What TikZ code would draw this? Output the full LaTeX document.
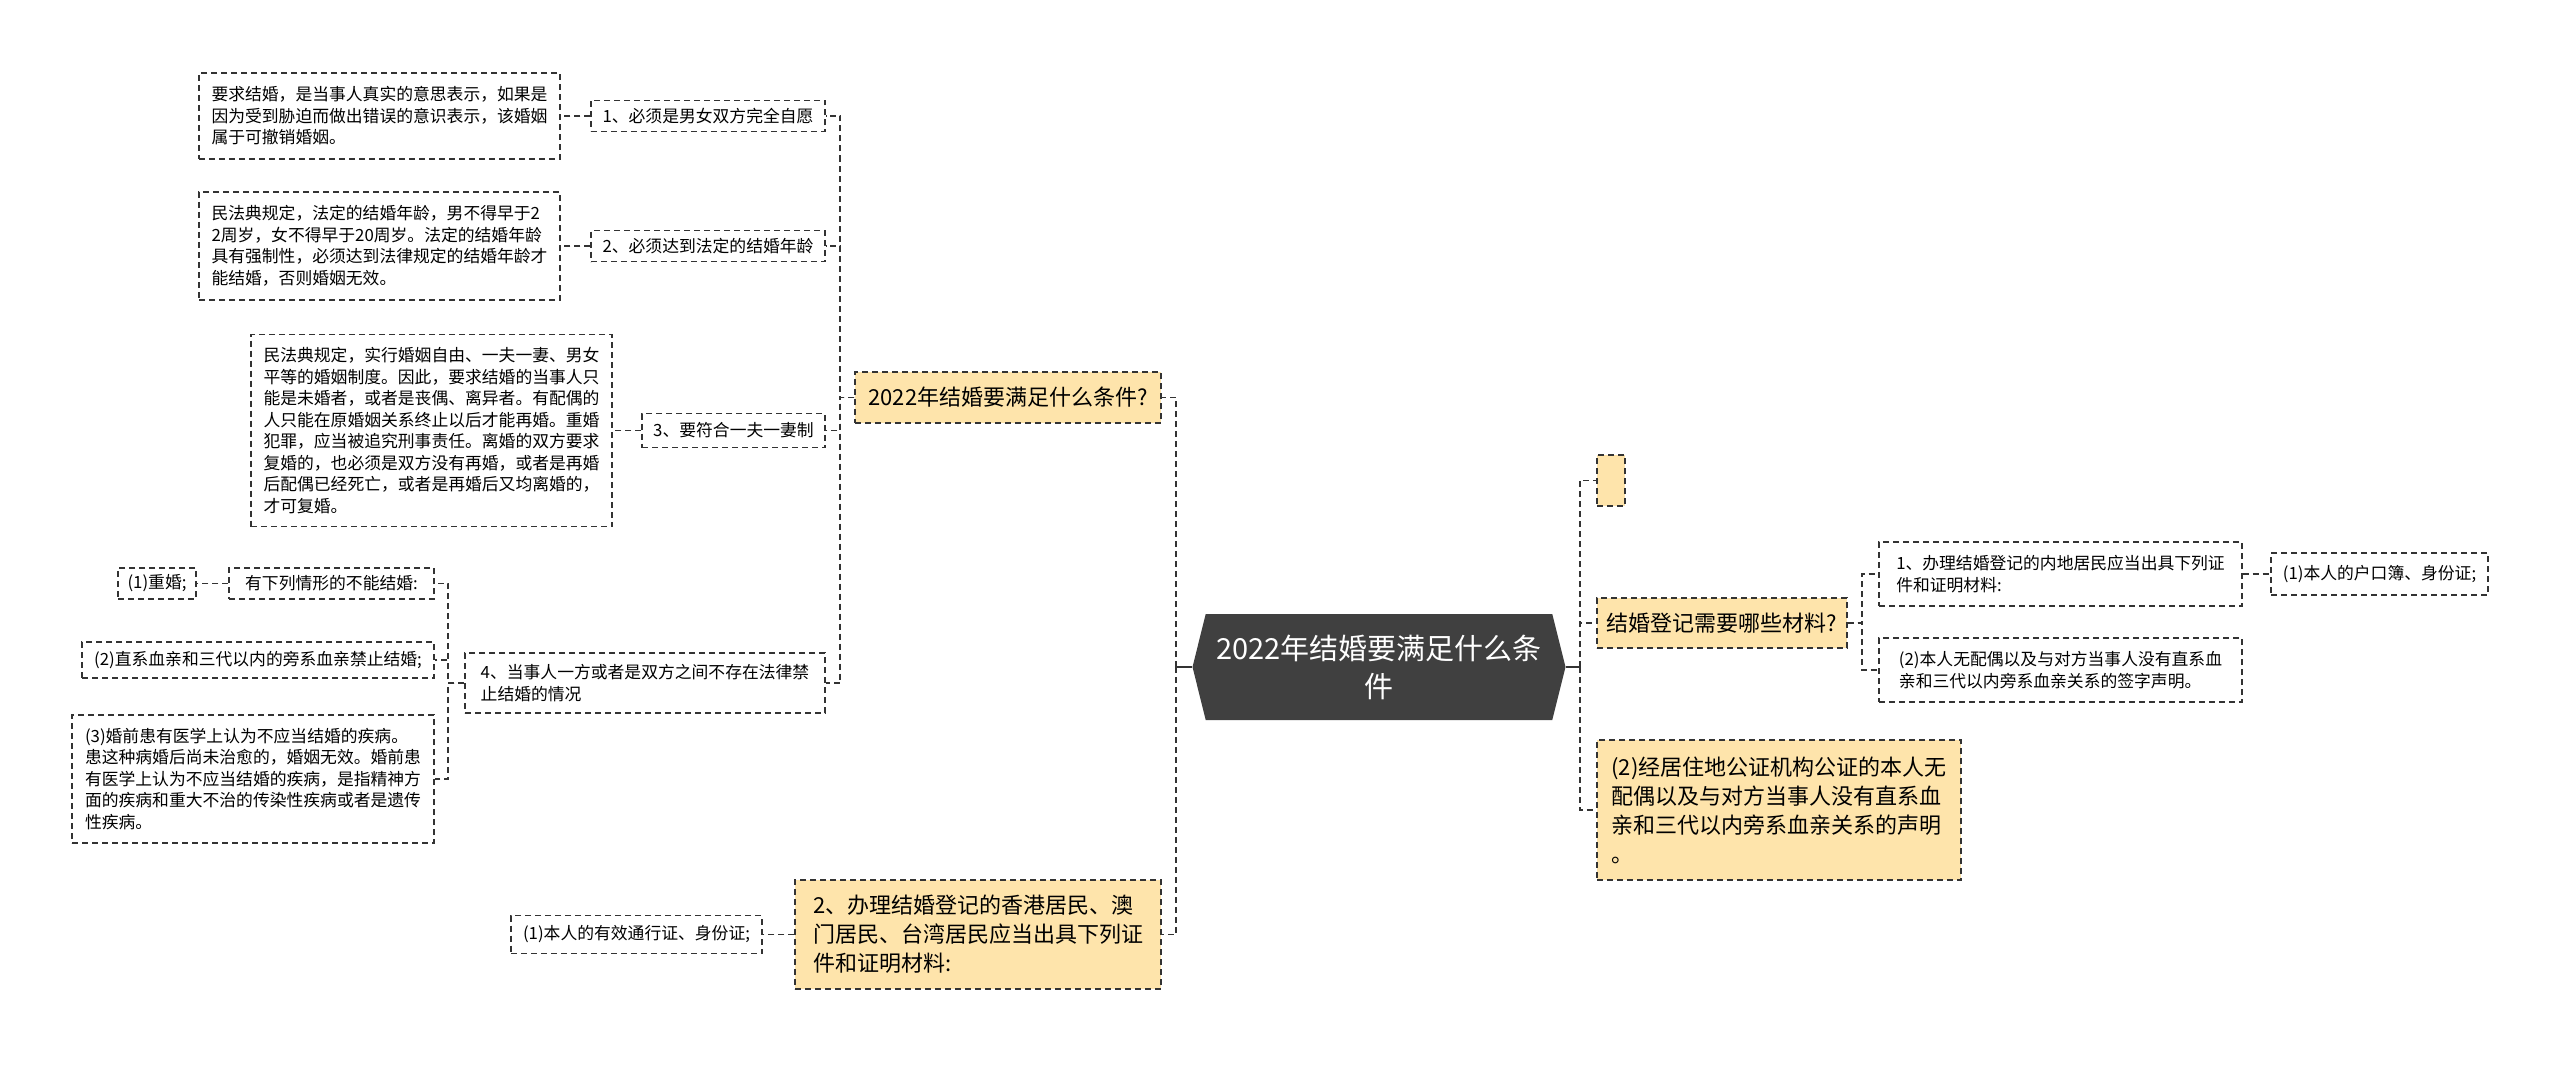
\documentclass[tikz,border=0pt]{standalone}
\usepackage{fontspec}
\setmainfont{Noto Sans CJK SC}
\usetikzlibrary{shapes.symbols}
\definecolor{topicyellow}{HTML}{FEE4AB}
\definecolor{rootgray}{HTML}{404040}
\definecolor{linegray}{HTML}{333333}

\begin{document}
\begin{tikzpicture}[x=0.5pt,y=-0.5pt,
  wh/.style 2 args={minimum width=#1*0.5pt,minimum height=#2*0.5pt},
  box/.style={draw=linegray,dash pattern=on 3pt off 2pt,line width=0.7pt,fill=white,
    inner sep=0pt,align=left,font=\fontsize{8.4}{10.75}\selectfont},
  topic/.style={box,fill=topicyellow,font=\fontsize{11}{14.5}\selectfont},
  rootnode/.style={signal,signal to=west and east,signal pointer angle=152,fill=rootgray,
    text=white,inner sep=0pt,align=center,font=\fontsize{14.5}{19}\selectfont},
  link/.style={draw=linegray,dash pattern=on 3pt off 2pt,line width=0.9pt},
  stub/.style={draw=linegray,line width=0.9pt}]
\useasboundingbox (0,0) rectangle (2560,1065);

\node[rootnode,wh={373}{106}] (root) at (1379,667) {2022年结婚要满足什么条\\件};

\node[topic,wh={306}{51}] (cond) at (1008,397.5) {2022年结婚要满足什么条件?};
\node[topic,wh={366}{109}] (hkmt) at (978,934.5) {2、办理结婚登记的香港居民、澳\\门居民、台湾居民应当出具下列证\\件和证明材料:};
\node[box,wh={251}{38}] (hkmtid) at (636.5,934.5) {(1)本人的有效通行证、身份证;};

\node[box,wh={234}{31}] (free) at (708,116) {1、必须是男女双方完全自愿};
\node[box,wh={234}{31}] (age) at (708,246) {2、必须达到法定的结婚年龄};
\node[box,wh={183}{34}] (mono) at (733.5,430.5) {3、要符合一夫一妻制};
\node[box,wh={360}{60}] (ban) at (645,683) {4、当事人一方或者是双方之间不存在法律禁\\止结婚的情况};

\node[box,wh={361}{86}] (freetxt) at (379.5,116) {要求结婚，是当事人真实的意思表示，如果是\\因为受到胁迫而做出错误的意识表示，该婚姻\\属于可撤销婚姻。};
\node[box,wh={361}{108}] (agetxt) at (379.5,246) {民法典规定，法定的结婚年龄，男不得早于2\\2周岁，女不得早于20周岁。法定的结婚年龄\\具有强制性，必须达到法律规定的结婚年龄才\\能结婚，否则婚姻无效。};
\node[box,wh={361}{192}] (monotxt) at (431.5,430.5) {民法典规定，实行婚姻自由、一夫一妻、男女\\平等的婚姻制度。因此，要求结婚的当事人只\\能是未婚者，或者是丧偶、离异者。有配偶的\\人只能在原婚姻关系终止以后才能再婚。重婚\\犯罪，应当被追究刑事责任。离婚的双方要求\\复婚的，也必须是双方没有再婚，或者是再婚\\后配偶已经死亡，或者是再婚后又均离婚的，\\才可复婚。};

\node[box,wh={205}{31}] (cases) at (331.5,583.5) {有下列情形的不能结婚:};
\node[box,wh={78}{31}] (bigamy) at (157,583.5) {(1)重婚;};
\node[box,wh={352}{36}] (kin) at (258,660) {(2)直系血亲和三代以内的旁系血亲禁止结婚;};
\node[box,wh={362}{128}] (ill) at (253,779) {(3)婚前患有医学上认为不应当结婚的疾病。\\患这种病婚后尚未治愈的，婚姻无效。婚前患\\有医学上认为不应当结婚的疾病，是指精神方\\面的疾病和重大不治的传染性疾病或者是遗传\\性疾病。};

\node[topic,wh={28}{51}] (blank) at (1611,480.5) {};
\node[topic,wh={250}{50}] (docs) at (1722,623) {结婚登记需要哪些材料?};
\node[topic,wh={364}{140}] (notary) at (1779,810) {(2)经居住地公证机构公证的本人无\\配偶以及与对方当事人没有直系血\\亲和三代以内旁系血亲关系的声明\\。};
\node[box,wh={363}{64}] (mainland) at (2060.5,574) {1、办理结婚登记的内地居民应当出具下列证\\件和证明材料:};
\node[box,wh={363}{64}] (sign) at (2060.5,670) {(2)本人无配偶以及与对方当事人没有直系血\\亲和三代以内旁系血亲关系的签字声明。};
\node[box,wh={217}{42}] (hukou) at (2379.5,574) {(1)本人的户口簿、身份证;};

\draw[stub] (root.west) -- ++(-16,0) coordinate (lt);
\draw[stub] (root.east) -- ++(14,0) coordinate (rt);
\foreach \n in {cond,hkmt}
  \draw[link] (lt) |- (\n.east);
\foreach \n in {blank,docs,notary}
  \draw[link] (rt) |- (\n.west);
\foreach \n in {free,age,mono,ban}
  \draw[link] (cond.west) -- ++(-14,0) |- (\n.east);
\draw[link] (free.west) -- (freetxt.east);
\draw[link] (age.west) -- (agetxt.east);
\draw[link] (mono.west) -- (monotxt.east);
\foreach \n in {cases,kin,ill}
  \draw[link] (ban.west) -- ++(-16,0) |- (\n.east);
\draw[link] (cases.west) -- (bigamy.east);
\draw[link] (hkmt.west) -- (hkmtid.east);
\foreach \n in {mainland,sign}
  \draw[link] (docs.east) -- ++(14,0) |- (\n.west);
\draw[link] (mainland.east) -- (hukou.west);
\end{tikzpicture}
\end{document}
